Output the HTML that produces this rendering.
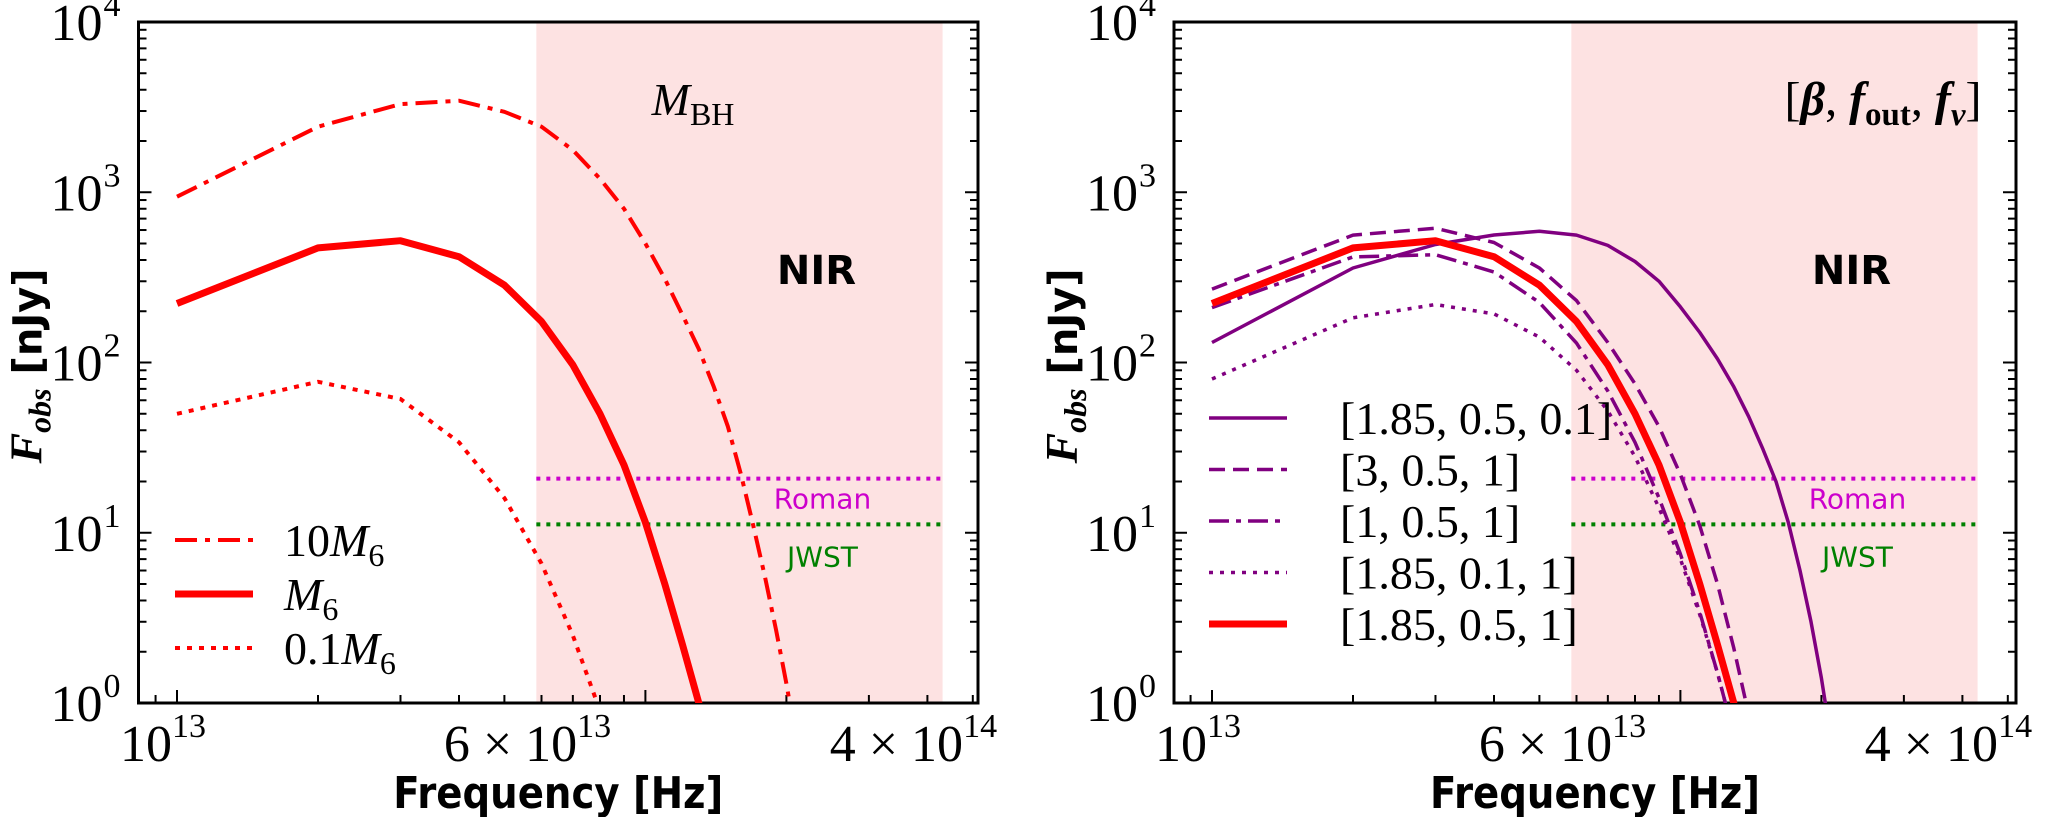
<!DOCTYPE html>
<html><head><meta charset="utf-8"><style>
html,body{margin:0;padding:0;background:#fff;}
svg{display:block;}
</style></head><body>
<svg id="fig" width="2050" height="817" viewBox="0 0 2050 817" xmlns="http://www.w3.org/2000/svg"></svg>
<script>
// Data
const freqsA = [1e13,2e13,3e13,4e13,5e13,6e13,7e13,8e13,9e13,1e14,1.1e14,1.2e14,1.3e14,1.4e14,1.5e14,1.6e14,1.7e14,1.8e14,1.9e14,2.0e14,2.1e14];
const m10 = [942,2428,3296,3450,2970,2428,1770,1200,800,500,310,190,120,72,42,22,11,5.5,2.7,1.3,0.6];
const m1  = [222,471,519,418,285,174,97,50,25,11.5,5,2.2,1.0,0.45];
const m01 = [50,77,61,34,16,6.6,2.5,0.9];
const p_185_05_01 = [131,359,493,561,590,560,487,392,300,212,150,105,72,48,31,20,11.5,6,3,1.4,0.6];
const p_3_05_1  = [270,560,615,507,359,231,131,75,42,22,11,5,2.1,0.85];
const p_1_05_1  = [210,417,430,340,225,130,68,34,16,7.5,3.4,1.5,0.65];
const p_185_01_1 = [80,183,219,193,141,90,52,28,14,7,3.3,1.5,0.65];
const p_185_05_1 = [222,471,519,418,285,174,97,50,25,11.5,5,2.2,1.0,0.45];
const romanLimit = 20.8;
const jwstLimit = 11.2;
const nirBand = [5.85e13, 4.31e14];
const yTickExps = [0,1,2,3,4];
const xTickLabels = [[1e13,"10","13"],[6e13,"6 \u00d7 10","13"],[4e14,"4 \u00d7 10","14"]];

const NS="http://www.w3.org/2000/svg";
const svg=document.getElementById('fig');
function el(tag,attrs,parent){const e=document.createElementNS(NS,tag);for(const k in attrs)e.setAttribute(k,attrs[k]);(parent||svg).appendChild(e);return e;}

const DEC=468.4, YTOP=22, YBOT=703, YDEC=(YBOT-YTOP)/4;
const panels=[{x13:177,left:138.5,right:978},{x13:1212,left:1174,right:2016}];
function X(p,f){return p.x13+Math.log10(f/1e13)*DEC;}
function Y(v){return YBOT-Math.log10(v)*YDEC;}

function drawPanel(pi,name){
  const p=panels[pi];
  const g=el('g',{});
  
  
  const clipId='clip'+pi;
  const cp=el('clipPath',{id:clipId},g);
  el('rect',{x:p.left,y:YTOP,width:p.right-p.left,height:YBOT-YTOP},cp);
  const band=el('rect',{x:X(p,nirBand[0]),y:YTOP,width:X(p,nirBand[1])-X(p,nirBand[0]),height:YBOT-YTOP,fill:'#fde2e2'},g);
  
  
  const r=el('line',{x1:X(p,nirBand[0]),x2:X(p,nirBand[1]),y1:Y(romanLimit),y2:Y(romanLimit),stroke:'#cc00cc','stroke-width':4,'stroke-dasharray':'4 6'},g);
  
  
  const j=el('line',{x1:X(p,nirBand[0]),x2:X(p,nirBand[1]),y1:Y(jwstLimit),y2:Y(jwstLimit),stroke:'#008000','stroke-width':4,'stroke-dasharray':'4 6'},g);
  
  
  const tx=(X(p,nirBand[0])+X(p,nirBand[1]))/2+83;
  const rt=el('text',{x:tx,y:Y(romanLimit)+30,fill:'#cc00cc','font-family':'DejaVu Sans, sans-serif','font-size':28,'text-anchor':'middle'},g);
  rt.textContent='Roman';
  
  
  const jt=el('text',{x:tx,y:Y(jwstLimit)+42,fill:'#008000','font-family':'DejaVu Sans, sans-serif','font-size':28,'text-anchor':'middle'},g);
  jt.textContent='JWST';
  
  
  const nir=el('text',{x:tx-6,y:284,'font-family':'DejaVu Sans, sans-serif','font-weight':'bold','font-size':40,'text-anchor':'middle'},g);
  nir.textContent='NIR';
  
  
  const fr=el('rect',{x:p.left,y:YTOP,width:p.right-p.left,height:YBOT-YTOP,fill:'none',stroke:'#000','stroke-width':3},g);
  
  
  for(let e=0;e<4;e++){for(let k=1;k<10;k++){const y=Y(k*Math.pow(10,e));const L=k==1?13:8;
    el('line',{x1:p.left,x2:p.left+L,y1:y,y2:y,stroke:'#000','stroke-width':2},g);
    el('line',{x1:p.right,x2:p.right-L,y1:y,y2:y,stroke:'#000','stroke-width':2},g);}}
  yTickExps.forEach(e=>{const t=el('text',{x:p.left-36,y:Y(Math.pow(10,e))+18,'font-family':'Liberation Serif, serif','font-size':52,'text-anchor':'end'},g);
    
    
    t.textContent='10';
    const s=el('text',{x:p.left-35,y:Y(Math.pow(10,e))-6,'font-family':'Liberation Serif, serif','font-size':34},g);
    s.textContent=String(e);});
  for(let e=12;e<=14;e++){for(let k=1;k<10;k++){const f=k*Math.pow(10,e);const x=X(p,f);if(x<p.left+1||x>p.right-1)continue;const L=(k==1)?13:8;
    el('line',{x1:x,x2:x,y1:YBOT,y2:YBOT-L,stroke:'#000','stroke-width':2},g);}}
  xTickLabels.forEach(([f,base,ex])=>{const t=el('text',{x:X(p,f)-14,y:YBOT+58,'font-family':'Liberation Serif, serif','font-size':52,'text-anchor':'middle'},g);
    
    
    t.appendChild(document.createTextNode(base));
    const s=el('tspan',{'font-size':34,dy:-24},t);s.textContent=ex;});
  const xl=el('text',{x:(p.left+p.right)/2,y:808,'font-family':'DejaVu Sans, sans-serif','font-weight':'bold','font-size':44,'text-anchor':'middle','textLength':330,'lengthAdjust':'spacingAndGlyphs'},g);
  xl.textContent='Frequency [Hz]';
  
  
  const yl=el('text',{x:0,y:0,transform:`translate(${p.left-97},366) rotate(-90)`,'font-family':'DejaVu Sans, sans-serif','font-weight':'bold','font-size':40,'text-anchor':'middle'},g);
  
  
  const f1=el('tspan',{'font-family':'Liberation Serif, serif','font-style':'italic','font-size':46},yl);f1.textContent='F';
  const f2=el('tspan',{'font-family':'Liberation Serif, serif','font-style':'italic','font-size':32,dy:9},yl);f2.textContent='obs';
  const f3=el('tspan',{dy:-9},yl);f3.textContent=' [nJy]';
  return {g,clipId,p};
}
function series(ctx,vals,color,w,dash,name){
  const pts=vals.map((v,i)=>X(ctx.p,freqsA[i]).toFixed(1)+','+Y(v).toFixed(1)).join(' ');
  const a={points:pts,fill:'none',stroke:color,'stroke-width':w,'clip-path':`url(#${ctx.clipId})`,'stroke-linejoin':'round'};
  if(dash)a['stroke-dasharray']=dash;
  const l=el('polyline',a,ctx.g);
  
  
}
function legendRow(ctx,x,y,color,w,dash,label,name,tx){
  const a={x1:x,x2:x+78,y1:y,y2:y,stroke:color,'stroke-width':w};
  if(dash)a['stroke-dasharray']=dash;
  const l=el('line',a,ctx.g);
  
  
  const t=el('text',{x:tx,y:y+16,'font-family':'Liberation Serif, serif','font-size':46},ctx.g);
  
  
  label(t);
}
function m6(t,pre){if(pre){const a=el('tspan',{},t);a.textContent=pre;}const b=el('tspan',{'font-style':'italic'},t);b.textContent='M';const c=el('tspan',{'font-size':32,dy:10},t);c.textContent='6';}
const RED='#ff0000', PUR='#800080';
const A=drawPanel(0,'left-panel');
series(A,m10,RED,4,'22 8 5 8','series-10m6');
series(A,m1,RED,7,null,'series-m6');
series(A,m01,RED,4,'5 7','series-0.1m6');
legendRow(A,175,540,RED,4,'22 8 5 8',t=>m6(t,'10'),'legend-10m6',284);
legendRow(A,175,594,RED,7,null,t=>m6(t,''),'legend-m6',284);
legendRow(A,175,648,RED,4,'5 7',t=>m6(t,'0.1'),'legend-0.1m6',284);
const mb=el('text',{x:693,y:115,'font-family':'Liberation Serif, serif','font-size':46,'text-anchor':'middle'},A.g);


(function(){const a=el('tspan',{'font-style':'italic'},mb);a.textContent='M';const b=el('tspan',{'font-size':32,dy:10},mb);b.textContent='BH';})();

const B=drawPanel(1,'right-panel');
series(B,p_185_05_01,PUR,3.5,null,'series-1.85-0.5-0.1');
series(B,p_3_05_1,PUR,3.5,'16 8','series-3-0.5-1');
series(B,p_1_05_1,PUR,3.5,'20 7 5 7','series-1-0.5-1');
series(B,p_185_01_1,PUR,3.5,'4 7','series-1.85-0.1-1');
series(B,p_185_05_1,RED,7,null,'series-1.85-0.5-1');
const labs=['[1.85, 0.5, 0.1]','[3, 0.5, 1]','[1, 0.5, 1]','[1.85, 0.1, 1]','[1.85, 0.5, 1]'];
const sty=[[PUR,3.5,null],[PUR,3.5,'16 8'],[PUR,3.5,'20 7 5 7'],[PUR,3.5,'4 7'],[RED,7,null]];
labs.forEach((s,i)=>legendRow(B,1209,418+i*51.5,sty[i][0],sty[i][1],sty[i][2],t=>{t.textContent=s;},'legend-entry-'+i,1340));
const pa=el('text',{x:1883,y:115,'font-family':'Liberation Serif, serif','font-size':48,'text-anchor':'middle'},B.g);


(function(){const parts=[['[',0],['\u03b2',1],[', ',0],['f',1],['out',2],[', ',3],['f',1],['v',4],[']',5]];
parts.forEach(([s,k])=>{const a={};if(k==1||k==4)a['font-style']='italic';if(k==1)a['font-weight']='bold';if(k==2){a['font-size']=33;a.dy=10;a['font-weight']='bold';}if(k==3)a.dy=-10;if(k==4){a['font-size']=33;a.dy=10;a['font-weight']='bold';}if(k==5)a.dy=-10;
const t=el('tspan',a,pa);t.textContent=s;});})();
</script>
</body></html>
